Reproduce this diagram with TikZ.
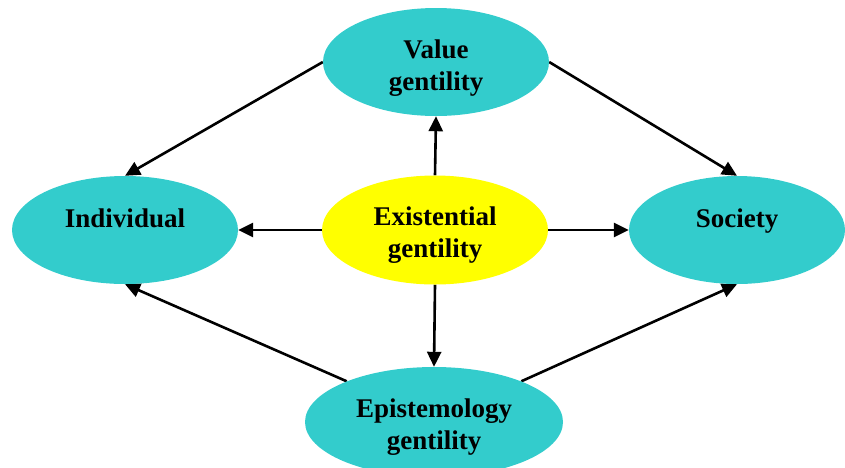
\documentclass[tikz,border=0pt]{standalone}
\usepackage{fontspec}
\setmainfont{Liberation Serif}
\usepackage{tikz}
\usetikzlibrary{arrows.meta,shapes.geometric,backgrounds}
\definecolor{gtteal}{HTML}{33CCCC}
\definecolor{gtyellow}{HTML}{FFFF00}

\begin{document}
\begin{tikzpicture}[x=1pt, y=-1pt,
  outer/.style={ellipse, fill=gtteal, inner sep=0pt, align=center,
    minimum width=226pt, minimum height=108pt,
    font=\fontsize{27}{32}\selectfont\bfseries},
  core/.style={outer, fill=gtyellow, minimum height=109pt},
  link/.style={draw=black, line width=2.6pt,
    -{Triangle[length=15pt, width=14pt]}}]
  \useasboundingbox (0,0) rectangle (845,467);
  \clip (0,0) rectangle (845,467);
  \node[outer] (VAL) at (436,62)  {\strut\\[-24pt]Value\\gentility};
  \node[outer] (IND) at (125,230) {Individual\\[-18pt]\strut};
  \node[core]  (EX)  at (435,230) {\strut\\[-26pt]Existential\\gentility};
  \node[outer, minimum width=216pt] (SOC) at (737,230) {Society\\[-18pt]\strut};
  \node[outer, minimum width=258pt, minimum height=110pt] (EPI) at (434,422)
    {\strut\\[-26pt]Epistemology\\gentility};
  \begin{scope}[on background layer]
    \draw[link] (VAL.west) -- (IND.north);
    \draw[link] (VAL.east) -- (SOC.north);
    \draw[link] (EX.north) -- (VAL.south);
    \draw[link] (EX.west)  -- (IND.east);
    \draw[link] (EX.east)  -- (SOC.west);
    \draw[link] (EX.south) -- (EPI.north);
    \draw[link] (EPI.155)  -- (IND.south);
    \draw[link] (EPI.25)   -- (SOC.south);
  \end{scope}
\end{tikzpicture}
\end{document}
